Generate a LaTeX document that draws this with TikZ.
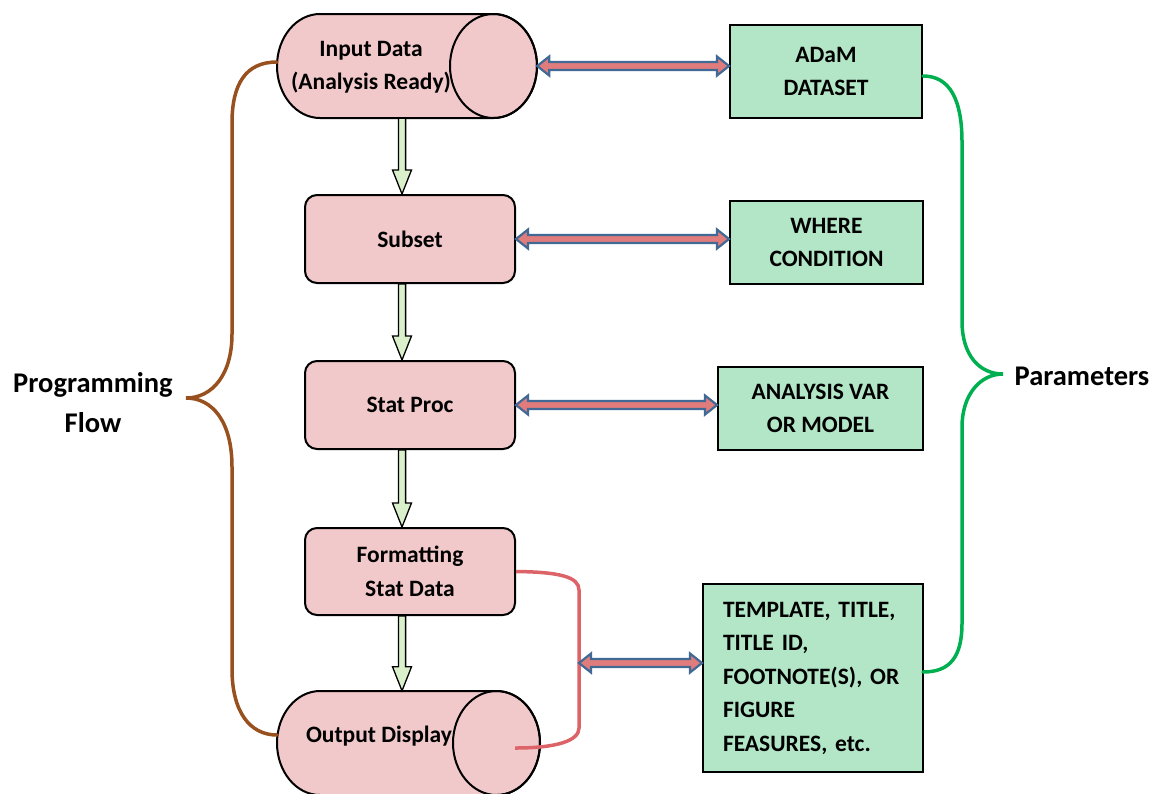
\documentclass[tikz,border=0pt]{standalone}
\usepackage{fontspec}
\setmainfont{Carlito}
\usetikzlibrary{calc}
\definecolor{pinkfill}{RGB}{242,201,202}
\definecolor{greenfill}{RGB}{179,230,199}
\definecolor{arrowred}{RGB}{224,124,124}
\definecolor{arrowblue}{RGB}{65,105,150}
\definecolor{downfill}{RGB}{218,240,203}
\definecolor{bracebrown}{RGB}{152,80,30}
\definecolor{bracegreen}{RGB}{0,176,80}
\definecolor{redline}{RGB}{220,100,105}
\tikzset{
  boxtext/.style={font=\fontsize{23.5}{33.5}\selectfont\bfseries, align=center},
  pinkbox/.style={boxtext, draw=black, line width=2pt, fill=pinkfill, rounded corners=12pt,
    minimum width=210pt, minimum height=88pt, inner sep=0pt},
  greenbox/.style={boxtext, draw=black, line width=2pt, fill=greenfill, inner sep=0pt},
  cylshape/.style={draw=black, line width=2pt, fill=pinkfill},
  cylarea/.style={minimum width=260pt, minimum height=104pt, inner sep=0pt},
  sidelabel/.style={font=\fontsize{28.5}{40}\selectfont\bfseries, align=center},
  dnarrow/.style={draw=black, line width=1.3pt, fill=downfill, line join=miter},
  dblarrow/.style={draw=arrowblue, line width=2.2pt, fill=arrowred, line join=miter},
  bracebr/.style={draw=bracebrown, line width=3.5pt, line cap=round},
  bracegr/.style={draw=bracegreen, line width=3.5pt, line cap=round},
  redconn/.style={draw=redline, line width=3.5pt},
}
\newcommand\blkdown[2]{%
  \path[dnarrow] let \p1=#1, \p2=#2 in
    (\x1-3.6pt,\y1) -- (\x1-3.6pt,\y2+24pt) -- (\x1-9.5pt,\y2+24pt) -- (\x2,\y2)
    -- (\x1+9.5pt,\y2+24pt) -- (\x1+3.6pt,\y2+24pt) -- (\x1+3.6pt,\y1) -- cycle;}
\newcommand\blkdouble[2]{%
  \path[dblarrow] let \p1=#1, \p2=#2 in
    (\x1,\y1) -- (\x1+12pt,\y1+9.5pt) -- (\x1+12pt,\y1+4pt) -- (\x2-12pt,\y1+4pt)
    -- (\x2-12pt,\y1+9.5pt) -- (\x2,\y1) -- (\x2-12pt,\y1-9.5pt) -- (\x2-12pt,\y1-4pt)
    -- (\x1+12pt,\y1-4pt) -- (\x1+12pt,\y1-9.5pt) -- cycle;}
\begin{document}
\begin{tikzpicture}[x=1pt,y=-1pt]
\useasboundingbox (0,0) rectangle (1155,793);

% cylinders
\filldraw[cylshape] (320,14) arc[start angle=270, end angle=90, x radius=43, y radius=52]
  -- (493.5,118) arc[start angle=90, end angle=-90, x radius=43.5, y radius=52] -- cycle;
\draw[line width=2pt] (493.5,66) ellipse [x radius=43.5, y radius=52];
\node[cylarea] (inp) at (407,66) {};
\node[boxtext] (inptext) at (371,67) {Input Data\\(Analysis Ready)};

\filldraw[cylshape] (320,691) arc[start angle=270, end angle=90, x radius=43, y radius=52]
  -- (496.5,795) arc[start angle=90, end angle=-90, x radius=43.5, y radius=52] -- cycle;
\draw[line width=2pt] (496.5,743) ellipse [x radius=43.5, y radius=52];
\node[cylarea] (out) at (408.5,743) {};
\node[boxtext] (outtext) at (379,736) {Output Display};

% process boxes
\node[pinkbox] (sub) at (410,239) {Subset};
\node[pinkbox] (stat) at (410,405) {Stat Proc};
\node[pinkbox, minimum height=87pt] (fmt) at (410,571.5) {Formatting\\Stat Data};

% parameter boxes
\node[greenbox, minimum width=192pt, minimum height=93pt] (adam) at (826,71.5) {ADaM\\DATASET};
\node[greenbox, minimum width=193pt, minimum height=83pt] (where) at (826.5,242.5) {WHERE\\CONDITION};
\node[greenbox, minimum width=205pt, minimum height=83pt] (anal) at (820.5,408.5) {ANALYSIS VAR\\OR MODEL};
\node[greenbox, minimum width=220pt, minimum height=188pt, align=left, text width=180pt,
  inner xsep=20pt]
  (tmpl) at (813,678) {TEMPLATE, TITLE,\\TITLE ID,\\FOOTNOTE(S), OR\\FIGURE\\FEASURES, etc.};

% labels
\node[sidelabel] (progflow) at (93,403) {Programming\\Flow};
\node[sidelabel] (params) at (1082,376) {Parameters};

% braces
\coordinate (bt) at (277,62);
\coordinate (bb) at (277,735);
\coordinate (btip) at (186,398);
\draw[bracebr] (bt) .. controls (245,62) and (232,85) .. (232,123) -- (232,334)
  .. controls (232,375) and (212,398) .. (btip)
  .. controls (212,398) and (232,421) .. (232,467) -- (232,669)
  .. controls (232,712) and (250,735) .. (bb);
\coordinate (gt) at (923,76);
\coordinate (gb) at (923,672);
\coordinate (gtip) at (1003,374);
\draw[bracegr] (gt) .. controls (950,76) and (962,100) .. (962,142) -- (962,321)
  .. controls (962,356) and (980,374) .. (gtip)
  .. controls (980,374) and (962,395) .. (962,427) -- (962,623)
  .. controls (962,657) and (950,672) .. (gb);

% red connector
\coordinate (rs) at (fmt.east);
\coordinate (re) at (515,748);
\coordinate (rmid) at (579,663);
\draw[redconn] (rs) .. controls (560,572) and (579,577) .. (579,590) -- (579,728)
  .. controls (579,741) and (556,748) .. (re);

% down arrows
\coordinate (ax) at (402,0);
\blkdown{(inp.south -| ax)}{(sub.north -| ax)}
\blkdown{(sub.south -| ax)}{(stat.north -| ax)}
\blkdown{(stat.south -| ax)}{(fmt.north -| ax)}
\blkdown{(fmt.south -| ax)}{(out.north -| ax)}

% double arrows
\blkdouble{(inp.east)}{(adam.west |- inp.east)}
\blkdouble{(sub.east)}{(where.west |- sub.east)}
\blkdouble{(stat.east)}{(anal.west |- stat.east)}
\blkdouble{(rmid)}{(tmpl.west |- rmid)}
\end{tikzpicture}
\end{document}
